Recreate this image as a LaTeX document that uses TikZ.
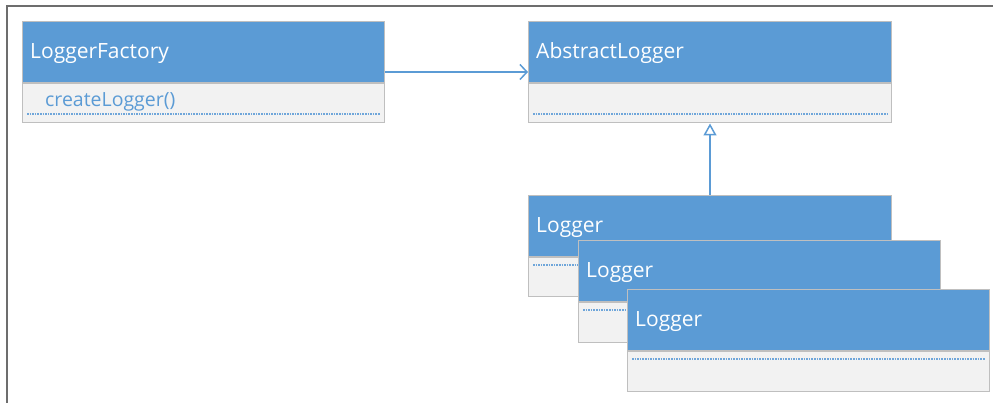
\documentclass[tikz,border=0pt]{standalone}
\usepackage{fontspec}
\setmainfont{Open Sans}
\usetikzlibrary{arrows.meta}
\definecolor{hdrblue}{HTML}{5B9BD5}
\definecolor{compgray}{HTML}{F2F2F2}
\definecolor{edgegray}{HTML}{BFBFBF}
\definecolor{framegray}{HTML}{6D6D6D}
\definecolor{linkblue}{HTML}{5B9BD5}
\definecolor{dotblue}{HTML}{6FA6DA}
\newcommand{\umlclass}[5]{%
  \node[hdr, minimum width=#3] (#1h) at (#2) {};
  \node[comp, minimum width=#3] (#1c) at (#1h.south west) {};
  \node[ctitle] (#1t) at ([xshift=8pt,yshift=-6.5pt]#1h.west) {#4};
  \draw[dotsep] ([xshift=5pt,yshift=-#5]#1c.north west) -- ([xshift=-5pt,yshift=-#5]#1c.north east);
}
\begin{document}
\begin{tikzpicture}[x=1pt,y=-1pt,
  hdr/.style={draw=edgegray, fill=hdrblue, line width=1pt, anchor=north west,
    minimum height=61pt, inner sep=0pt},
  comp/.style={draw=edgegray, fill=compgray, line width=1pt, anchor=north west,
    minimum height=39.5pt, inner sep=0pt},
  ctitle/.style={anchor=base west, inner sep=0pt, text=white,
    font=\fontsize{21}{24}\selectfont},
  cmember/.style={anchor=base west, inner sep=0pt, text=linkblue,
    font=\fontsize{19.5}{22}\selectfont},
  dotsep/.style={draw=dotblue, line width=1.1pt, dash pattern=on 1.6pt off 1pt},
  assoc/.style={draw=linkblue, line width=1.3pt, -{Straight Barb[length=7pt,width=15pt,line width=1.5pt]}},
  inherit/.style={draw=linkblue, line width=1.5pt, -{Triangle[open,length=12pt,width=13pt,line width=1.5pt]}},
  frameline/.style={draw=framegray, line width=2pt}
]
\useasboundingbox (0,0) rectangle (993,403);
\draw[frameline] (7,404) -- (7,6) -- (994,6);

\umlclass{lf}{22,21}{362pt}{LoggerFactory}{31pt}
\node[cmember] (lfm) at (45,107) {createLogger()};
\umlclass{al}{528,21}{363pt}{AbstractLogger}{31pt}
\umlclass{la}{528,195}{363pt}{Logger}{8pt}
\umlclass{lb}{578,240}{362pt}{Logger}{8pt}
\umlclass{lc}{627,289}{362pt}{Logger}{8pt}

\draw[assoc] ([yshift=11pt]lfh.south east) -- ([yshift=11pt]alh.south west);
\draw[inherit] (lah.north) -- (alc.south);
\end{tikzpicture}
\end{document}
